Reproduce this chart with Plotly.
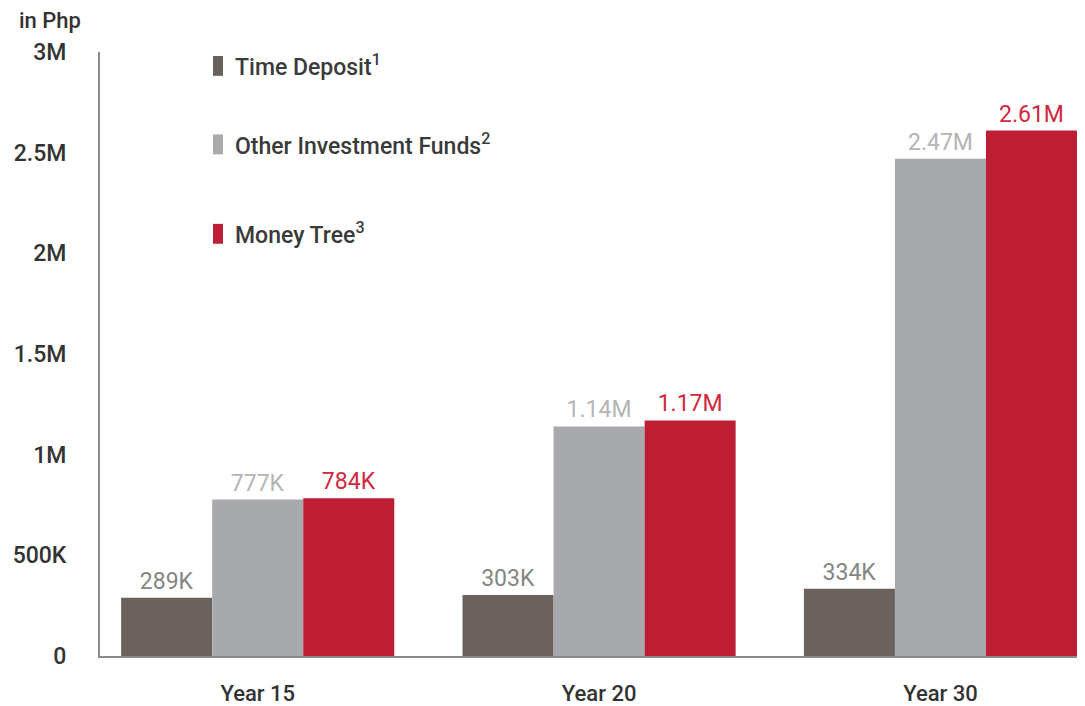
import plotly.graph_objects as go

categories = ["Year 15", "Year 20", "Year 30"]
time_deposit = [289000, 303000, 334000]
other_funds = [777000, 1140000, 2470000]
money_tree = [784000, 1170000, 2610000]
td_labels = ["289K", "303K", "334K"]
of_labels = ["777K", "1.14M", "2.47M"]
mt_labels = ["784K", "1.17M", "2.61M"]
series_names = ["Time Deposit<sup>1</sup>", "Other Investment Funds<sup>2</sup>", "Money Tree<sup>3</sup>"]
tick_vals = [0, 500000, 1000000, 1500000, 2000000, 2500000, 3000000]
tick_text = ["0", "500K", "1M", "1.5M", "2M", "2.5M", "3M"]

colors = ["#6b625d", "#a7a9ac", "#be1e34"]
label_colors = ["#858585", "#b4b4b4", "#d0283f"]
FONT = "Roboto"

# page has an ~8px body offset; compensate so the plot lands where the reference has it
OFF = 8
RIGHT = 1085 - OFF          # visible right edge of the page
W, H = RIGHT - OFF, 706 - OFF
PL, PT, PB = 100, 52, 660   # target plot-area edges in window pixels
PH = PB - PT
PW = RIGHT - PL

fig = go.Figure()
for vals, labs, col, lcol, name in zip(
    [time_deposit, other_funds, money_tree],
    [td_labels, of_labels, mt_labels],
    colors, label_colors, series_names,
):
    fig.add_trace(go.Bar(
        x=categories, y=vals, name=name, marker=dict(color=col, line=dict(width=0)),
        text=labs, textposition="outside", cliponaxis=False,
        textfont=dict(family=FONT, size=23, color=lcol),
        showlegend=False,
    ))

fig.update_layout(
    width=W, height=H,
    margin=dict(l=PL - OFF, r=0, t=PT - OFF, b=706 - PB),
    paper_bgcolor="white", plot_bgcolor="white",
    barmode="group", bargap=0.2, bargroupgap=0,
    font=dict(family=FONT, color="#3a3a3a"),
    xaxis=dict(
        range=[-0.462, 2.40], showgrid=False, zeroline=False,
        showline=True, linecolor="#8c8c8c", linewidth=2,
        ticks="", ticklabelstandoff=17,
        tickfont=dict(family=FONT, size=22, color="#333333", weight=500),
    ),
    yaxis=dict(
        range=[0, 3000000], showgrid=False, zeroline=False,
        showline=True, linecolor="#8c8c8c", linewidth=2,
        tickvals=tick_vals, ticktext=tick_text, ticks="",
        ticklabelstandoff=27,
        tickfont=dict(family=FONT, size=23, color="#333333", weight=500),
    ),
)

fig.add_annotation(
    text="in Php", xref="paper", yref="paper", x=(50 - PL) / PW, y=(PB - 20) / PH,
    xanchor="center", yanchor="middle", showarrow=False,
    font=dict(family=FONT, size=22, color="#333333", weight=500),
)

# custom legend
legend_y = [66, 145, 235]
for name, col, ly in zip(series_names, colors, legend_y):
    yp = (PB - ly) / PH
    fig.add_shape(type="rect", xref="paper", yref="paper",
                  x0=(213 - PL) / PW, x1=(223 - PL) / PW,
                  y0=yp - 10 / PH, y1=yp + 10 / PH,
                  fillcolor=col, line=dict(width=0))
    fig.add_annotation(
        text=name, xref="paper", yref="paper", x=(233 - PL) / PW, y=yp,
        xanchor="left", yanchor="middle", showarrow=False,
        font=dict(family=FONT, size=23, color="#3a3a3a", weight=500),
    )

fig.write_html("out.html")
